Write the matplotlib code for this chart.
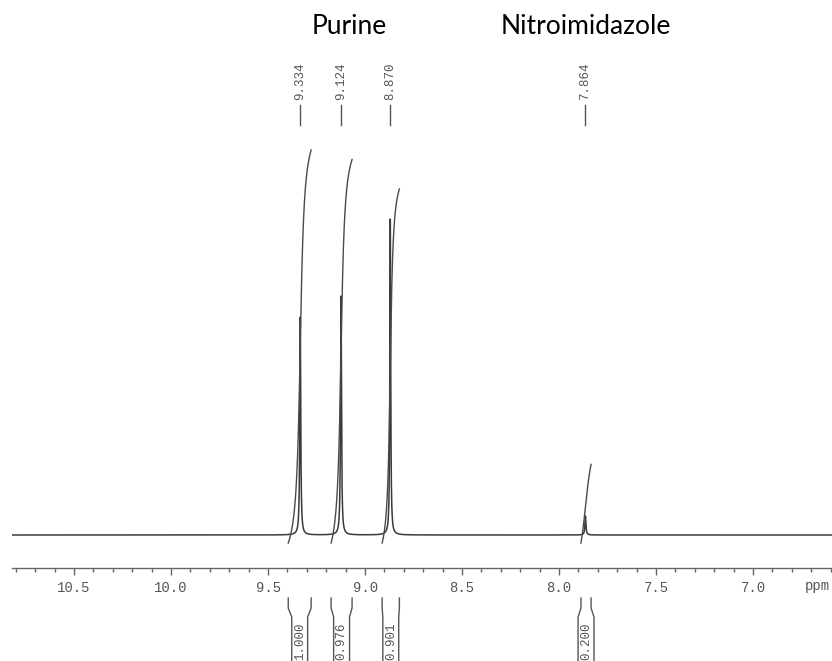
import numpy as np
import matplotlib
matplotlib.use('Agg')
import matplotlib.pyplot as plt
import matplotlib.transforms as mtransforms

# peaks: position (ppm), relative height, half width (ppm)
peak_ppm = [9.334, 9.124, 8.870, 7.864]
peak_height = [0.69, 0.756, 1.0, 0.06]
peak_width = [0.0028, 0.0028, 0.0025, 0.003]

# integrals: region start/end (ppm), value, curve softness
int_start = [9.396, 9.175, 8.912, 7.887]
int_end = [9.278, 9.067, 8.823, 7.835]
int_value = [1.000, 0.976, 0.901, 0.200]
int_soft = [0.015, 0.014, 0.011, 0.03]

major_ticks = [10.5, 10.0, 9.5, 9.0, 8.5, 8.0, 7.5, 7.0]
major_labels = ['10.5', '10.0', '9.5', '9.0', '8.5', '8.0', '7.5', '7.0']

groups = ['Purine', 'Nitroimidazole']

W, H = 832, 661
fig = plt.figure(figsize=(W / 100, H / 100), dpi=100)
ax = fig.add_axes([12 / W, 93 / H, 820 / W, 568 / H])

mono = 'Liberation Mono'
grey = '#555555'

# spectrum
x = np.linspace(10.82, 6.59, 30000)
y = np.zeros_like(x)
for p, h, g in zip(peak_ppm, peak_height, peak_width):
    y += h * g**2 / ((x - p)**2 + g**2)
ax.plot(x, y, color='#3a3a3a', lw=1.1)

# integral curves
base = -8 / 316
scale = 393 / 316
for p, s, e, v, g in zip(peak_ppm, int_start, int_end, int_value, int_soft):
    xs = np.linspace(s, e, 400)
    a0 = np.arctan((p - s) / g)
    a1 = np.arctan((p - e) / g)
    frac = (np.arctan((p - xs) / g) - a0) / (a1 - a0)
    ax.plot(xs, base + v * scale * frac, color='#4a4a4a', lw=1.0)

ax.set_xlim(10.82, 6.593)
ax.set_ylim(-33 / 316, 535 / 316)

for side in ['top', 'left', 'right']:
    ax.spines[side].set_visible(False)
ax.spines['bottom'].set_color('#666666')
ax.spines['bottom'].set_linewidth(1.0)
ax.set_yticks([])
ax.set_xticks(major_ticks)
ax.set_xticklabels(major_labels, fontfamily=mono, fontsize=10, color=grey)
ax.set_xticks(np.arange(6.6, 10.85, 0.1), minor=True)
ax.tick_params(axis='x', which='major', direction='out', length=5, width=1,
               color='#666666', pad=4)
ax.tick_params(axis='x', which='minor', direction='out', length=3, width=1,
               color='#666666')

trans = mtransforms.blended_transform_factory(ax.transData, fig.transFigure)

ax.text(6.67, 1 - 586 / H, 'ppm', transform=trans, ha='center', va='center',
        fontfamily=mono, fontsize=10, color=grey)

# peak labels on top
for p in peak_ppm:
    ax.text(p, 1 - 81 / H, '%.3f' % p, transform=trans, rotation=90,
            ha='center', va='center', fontfamily=mono, fontsize=9, color=grey)
    ax.plot([p, p], [1 - 105 / H, 1 - 125 / H], transform=trans,
            color=grey, lw=1.0, clip_on=False)

# integral brackets below axis
hw = 0.041
for s, e, v in zip(int_start, int_end, int_value):
    c = (s + e) / 2
    ys = [1 - 598 / H, 1 - 608 / H, 1 - 617 / H, 0]
    ax.plot([s, s, c + hw, c + hw], ys, transform=trans, color=grey, lw=1.0,
            clip_on=False)
    ax.plot([e, e, c - hw, c - hw], ys, transform=trans, color=grey, lw=1.0,
            clip_on=False)
    ax.text(c, 1 - 641 / H, '%.3f' % v, transform=trans, rotation=90,
            ha='center', va='center', fontfamily=mono, fontsize=9, color=grey)

fig.text(349 / W, 1 - 27 / H, groups[0], ha='center', va='center',
         fontfamily='Lato', fontsize=19, color='black')
fig.text(586 / W, 1 - 27 / H, groups[1], ha='center', va='center',
         fontfamily='Lato', fontsize=19, color='black')

fig.savefig('out.png', dpi=100)
